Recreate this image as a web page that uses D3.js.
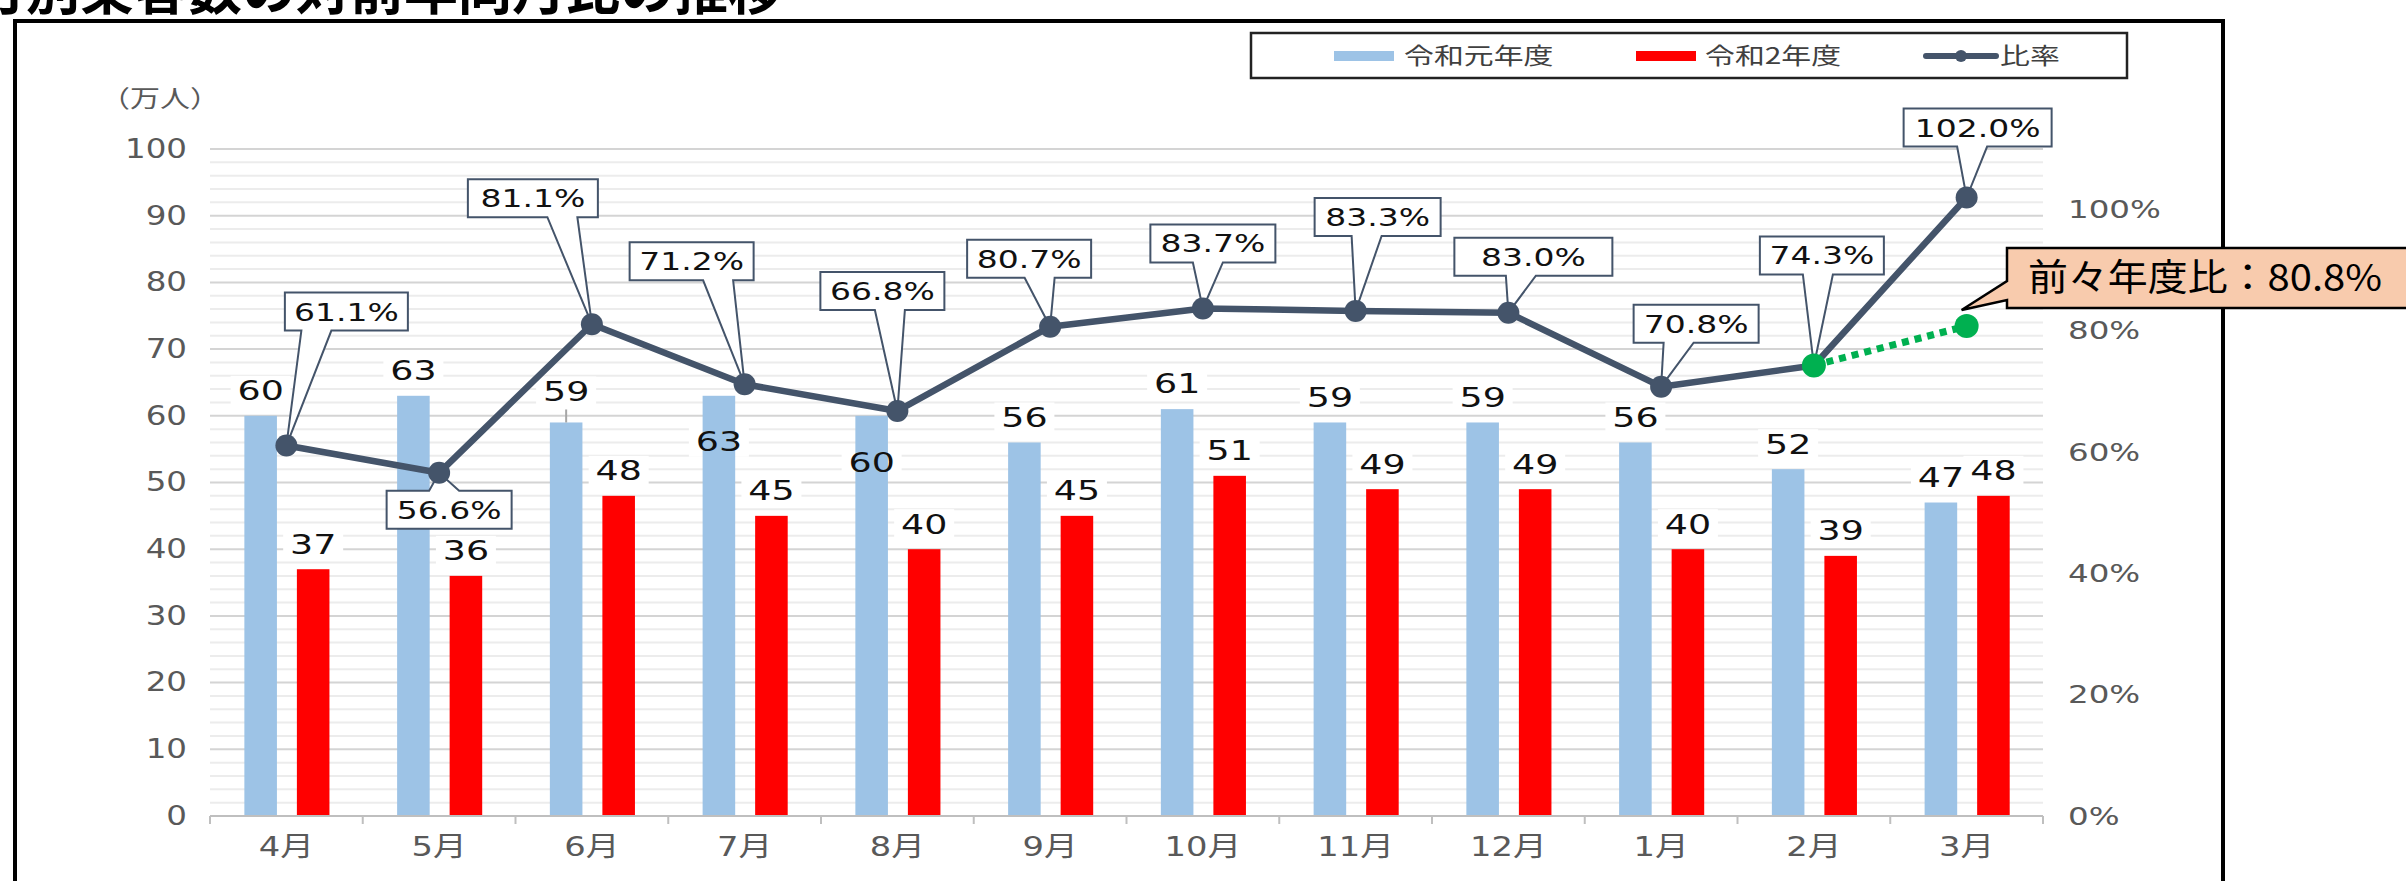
<!DOCTYPE html>
<html>
<head>
<meta charset="utf-8">
<script src="https://cdn.jsdelivr.net/npm/d3@7"></script>
<style>
  body { margin: 0; background: #fff; overflow: hidden; }
</style>
</head>
<body>
<script>
// data
const months = ["4月", "5月", "6月", "7月", "8月", "9月", "10月", "11月", "12月", "1月", "2月", "3月"];
const fy2019 = [60, 63, 59, 63, 60, 56, 61, 59, 59, 56, 52, 47];   // 令和元年度 (万人)
const fy2020 = [37, 36, 48, 45, 40, 45, 51, 49, 49, 40, 39, 48];   // 令和2年度 (万人)
const ratio = [61.1, 56.6, 81.1, 71.2, 66.8, 80.7, 83.7, 83.3, 83.0, 70.8, 74.3, 102.0]; // 比率 %
const vs2018 = 80.8;  // 前々年度比 (3月)
const leftTicks = [0, 10, 20, 30, 40, 50, 60, 70, 80, 90, 100];
const rightTicks = [0, 20, 40, 60, 80, 100];
const seriesNames = ["令和元年度", "令和2年度", "比率"];

// label layout (nudges only)
const blueLabelDy = [-25, -25, -31, 46, 47, -25, -25, -25, -25, -25, -25, -25];
const calloutBox = [[60, -134, 123], [10, 37, 125], [-59, -126, 130], [-53, -123, 124], [-15, -120, 124],
  [-21, -68, 124], [10, -65, 125], [22, -94, 126], [25, -56, 158], [35, -63, 125], [8, -110, 124], [11, -70, 148]];

const width = 2406;
const height = 881;
const sans = "'DejaVu Sans', 'Noto Sans CJK JP', sans-serif";
const cjk = "'Noto Sans CJK JP', sans-serif";
const navy = "#44546a";
const green = "#00b050";

const rows = months.map((m, i) => ({ m, a: fy2019[i], b: fy2020[i], r: ratio[i], i }));

const svg = d3.select("body").append("svg")
  .attr("width", width)
  .attr("height", height)
  .style("display", "block");

// scales
const x0 = d3.scaleBand().domain(months).range([210, 2043]);
const x1 = d3.scaleBand().domain(["a", "b"])
  .range([x0.bandwidth() * 0.225, x0.bandwidth() * 0.782])
  .paddingInner(0.38);
const yL = d3.scaleLinear().domain([0, 100]).range([816, 149]);
const yR = d3.scaleLinear().domain([0, 110]).range([816, 149]);
const cx = m => x0(m) + x0.bandwidth() / 2;

// text that is stretched sideways like the original font
function wideText(g, x, y, str, size, sx, anchor, fill, family) {
  return g.append("text")
    .attr("transform", `translate(${x},${y}) scale(${sx},1)`)
    .attr("text-anchor", anchor)
    .attr("dy", "0.36em")
    .attr("font-size", size)
    .attr("font-family", family || sans)
    .attr("fill", fill)
    .text(str);
}

// outer frame + title (title is cut off at the top in the original)
svg.append("rect")
  .attr("x", 15).attr("y", 21).attr("width", 2208).attr("height", 900)
  .attr("fill", "none").attr("stroke", "#000").attr("stroke-width", 4);

svg.append("text")
  .attr("x", -28).attr("y", 10)
  .attr("font-size", 54).attr("font-weight", 700)
  .attr("font-family", cjk)
  .text("月別乗客数の対前年同月比の推移");

// legend
const legend = svg.append("g");
legend.append("rect")
  .attr("x", 1251).attr("y", 33).attr("width", 876).attr("height", 45)
  .attr("fill", "#fff").attr("stroke", "#222").attr("stroke-width", 2.5);
legend.append("rect").attr("x", 1334).attr("y", 51).attr("width", 60).attr("height", 10).attr("fill", "#9dc3e6");
legend.append("rect").attr("x", 1636).attr("y", 51).attr("width", 60).attr("height", 10).attr("fill", "#ff0000");
legend.append("line").attr("x1", 1926).attr("x2", 1996).attr("y1", 56).attr("y2", 56)
  .attr("stroke", navy).attr("stroke-width", 6).attr("stroke-linecap", "round");
legend.append("circle").attr("cx", 1961).attr("cy", 56).attr("r", 6).attr("fill", navy);
wideText(legend, 1404, 56, seriesNames[0], 23, 1.3, "start", "#404040", cjk);
wideText(legend, 1705, 56, seriesNames[1], 23, 1.3, "start", "#404040", cjk);
wideText(legend, 2000, 56, seriesNames[2], 23, 1.3, "start", "#404040", cjk);

// gridlines every 2 (major every 10)
svg.append("g")
  .selectAll("line")
  .data(d3.range(2, 101, 2))
  .join("line")
  .attr("x1", x0.range()[0]).attr("x2", x0.range()[1])
  .attr("y1", d => yL(d)).attr("y2", d => yL(d))
  .attr("stroke", d => d % 10 === 0 ? "#d4d4d4" : "#ececec")
  .attr("stroke-width", 2);

// bar label positions
const labels = [];
rows.forEach(d => {
  labels.push({ x: x0(d.m) + x1("a") + x1.bandwidth() / 2, y: yL(d.a) + blueLabelDy[d.i], t: d.a });
  labels.push({ x: x0(d.m) + x1("b") + x1.bandwidth() / 2, y: yL(d.b) - 25, t: d.b });
});

// white backing behind labels (cuts the gridlines like the original)
svg.append("g")
  .selectAll("rect")
  .data(labels)
  .join("rect")
  .attr("x", d => d.x - 30).attr("y", d => d.y - 15)
  .attr("width", 60).attr("height", 30)
  .attr("fill", "#fff");

// bars
svg.append("g")
  .selectAll("rect")
  .data(rows)
  .join("rect")
  .attr("x", d => x0(d.m) + x1("a"))
  .attr("y", d => yL(d.a))
  .attr("width", x1.bandwidth())
  .attr("height", d => yL(0) - yL(d.a))
  .attr("fill", "#9dc3e6");

svg.append("g")
  .selectAll("rect")
  .data(rows)
  .join("rect")
  .attr("x", d => x0(d.m) + x1("b"))
  .attr("y", d => yL(d.b))
  .attr("width", x1.bandwidth())
  .attr("height", d => yL(0) - yL(d.b))
  .attr("fill", "#ff0000");

// small leader for 6月
svg.append("line")
  .attr("x1", x0("6月") + x1("a") + x1.bandwidth() / 2)
  .attr("x2", x0("6月") + x1("a") + x1.bandwidth() / 2)
  .attr("y1", yL(59) - 13).attr("y2", yL(59))
  .attr("stroke", "#a6a6a6").attr("stroke-width", 2);

// bar value labels
const lg = svg.append("g");
labels.forEach(d => wideText(lg, d.x, d.y, d.t, 26, 1.4, "middle", "#111"));

// callouts for the ratio line
function calloutPath(bx, by, w, h, tx, ty) {
  const l = bx - w / 2, r = bx + w / 2, t = by - h / 2, b = by + h / 2;
  const mid = Math.max(l + 18, Math.min(r - 18, (bx + tx) / 2));
  if (ty > by) {
    return `M${l},${t}H${r}V${b}H${mid + 15}L${tx},${ty}L${mid - 15},${b}H${l}Z`;
  }
  return `M${l},${t}H${mid - 15}L${tx},${ty}L${mid + 15},${t}H${r}V${b}H${l}Z`;
}

const cg = svg.append("g");
rows.forEach(d => {
  const [dx, dy, w] = calloutBox[d.i];
  const px = cx(d.m), py = yR(d.r);
  cg.append("path")
    .attr("d", calloutPath(px + dx, py + dy, w, 38, px, py))
    .attr("fill", "#fff")
    .attr("stroke", navy)
    .attr("stroke-width", 2);
  wideText(cg, px + dx, py + dy, d3.format(".1f")(d.r) + "%", 25, 1.32, "middle", "#111");
});

// ratio line
svg.append("path")
  .datum(rows)
  .attr("fill", "none")
  .attr("stroke", navy)
  .attr("stroke-width", 6.5)
  .attr("stroke-linejoin", "round")
  .attr("d", d3.line().x(d => cx(d.m)).y(d => yR(d.r)));

// 前々年度比 dotted segment
const g2 = rows[10];
svg.append("line")
  .attr("x1", cx(g2.m)).attr("y1", yR(g2.r))
  .attr("x2", cx("3月")).attr("y2", yR(vs2018))
  .attr("stroke", green).attr("stroke-width", 7)
  .attr("stroke-dasharray", "7,6");

svg.append("g")
  .selectAll("circle")
  .data(rows)
  .join("circle")
  .attr("cx", d => cx(d.m))
  .attr("cy", d => yR(d.r))
  .attr("r", d => d.i === 10 ? 12 : 11)
  .attr("fill", d => d.i === 10 ? green : navy);

svg.append("circle")
  .attr("cx", cx("3月")).attr("cy", yR(vs2018)).attr("r", 12)
  .attr("fill", green);

// x axis: base line, boundary ticks, month labels
const axis = svg.append("g");
axis.append("line")
  .attr("x1", x0.range()[0]).attr("x2", x0.range()[1])
  .attr("y1", yL(0)).attr("y2", yL(0))
  .attr("stroke", "#bfbfbf").attr("stroke-width", 2);
axis.selectAll(".tk")
  .data(months.map(m => x0(m)).concat([x0.range()[1]]))
  .join("line")
  .attr("class", "tk")
  .attr("x1", d => d).attr("x2", d => d)
  .attr("y1", yL(0)).attr("y2", yL(0) + 8)
  .attr("stroke", "#bfbfbf").attr("stroke-width", 2);
months.forEach(m => wideText(axis, cx(m), 846, m, 27, 1.25, "middle", "#595959"));

// left axis
const yAxisL = svg.append("g")
  .attr("transform", `translate(${x0.range()[0]},0)`)
  .call(d3.axisLeft(yL).tickValues(leftTicks).tickSize(0).tickPadding(23));
yAxisL.select(".domain").remove();
yAxisL.selectAll("text")
  .attr("font-size", 26)
  .attr("font-family", sans)
  .attr("fill", "#595959")
  .attr("x", -23 / 1.25)
  .attr("transform", "scale(1.25,1)");
wideText(svg, 160, 98, "（万人）", 24, 1.25, "middle", "#595959", cjk);

// right axis
const yAxisR = svg.append("g")
  .attr("transform", `translate(${x0.range()[1]},0)`)
  .call(d3.axisRight(yR).tickValues(rightTicks).tickSize(0).tickPadding(25).tickFormat(d => d + "%"));
yAxisR.select(".domain").remove();
yAxisR.selectAll("text")
  .attr("font-size", 25)
  .attr("font-family", sans)
  .attr("fill", "#595959")
  .attr("x", 25 / 1.3)
  .attr("transform", "scale(1.3,1)");

// annotation box
const tipX = cx("3月") - 5, tipY = yR(vs2018) - 16;
svg.append("path")
  .attr("d", `M2007,248H2420V308H2007V300L${tipX},${tipY}L2007,281Z`)
  .attr("fill", "#f8cbad")
  .attr("stroke", "#000")
  .attr("stroke-width", 2.5);
svg.append("text")
  .attr("x", 2028).attr("y", 278)
  .attr("dy", "0.36em")
  .attr("font-size", 37)
  .attr("font-family", cjk)
  .attr("textLength", 354)
  .attr("lengthAdjust", "spacingAndGlyphs")
  .text("前々年度比：" + vs2018.toFixed(1) + "%");
</script>
</body>
</html>
